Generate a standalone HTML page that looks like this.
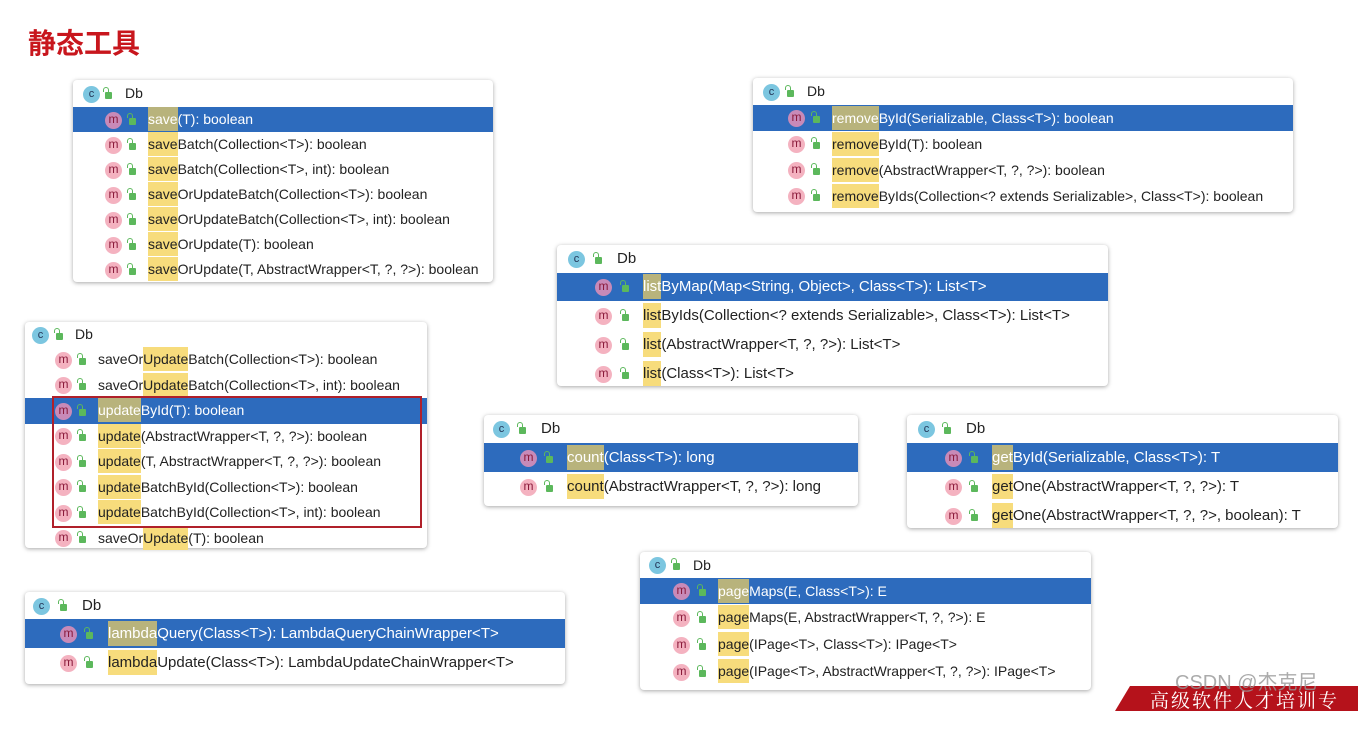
<!DOCTYPE html>
<html><head><meta charset="utf-8"><style>
body{margin:0;width:1358px;height:707px;background:#fff;position:relative;overflow:hidden;font-family:"Liberation Sans","Noto Sans CJK SC",sans-serif;color:#222}
.t{position:absolute;left:28px;top:22px;font-size:28px;font-weight:bold;color:#c8161d;font-family:"Liberation Sans","Noto Sans CJK SC",sans-serif}
.p{position:absolute;background:#fff;border-radius:4px;box-shadow:0 1px 4px rgba(0,0,0,.35)}
.r{position:relative;white-space:nowrap}
.s{background:#2d6bbd;color:#fff}
.h{background:#f7dc7c;padding:4px 0}
.s .h{background:#b8b37c;color:#fff}
.m{position:absolute;width:17px;height:17px;border-radius:50%;background:#f4b2c0;color:#8a1a3a;font-size:12px;line-height:15px;text-align:center;top:50%;margin-top:-8px}
.s .m{background:#c88ab8}
.c{position:absolute;width:17px;height:17px;border-radius:50%;background:#7cc6e0;color:#235;font-size:11px;line-height:16px;text-align:center;top:50%;margin-top:-8px}
.l{position:absolute;width:7px;height:7px;background:#5cb85c;border-radius:1px;top:50%;margin-top:-2px}
.l:before{content:"";position:absolute;left:-2px;top:-5px;width:4px;height:4px;border:1.5px solid #5cb85c;border-bottom:none;border-radius:3px 3px 0 0}
</style></head><body>
<div class="t">静态工具</div>

<!-- P1 -->
<div class="p" style="left:73px;top:80px;width:420px;height:202px;font-size:14px">
<div class="r" style="height:27px;line-height:27px;padding-left:52px"><span class="c" style="left:10px">c</span><span class="l" style="left:32px"></span>Db</div>
<div class="r s" style="height:25px;line-height:25px;padding-left:75px"><span class="m" style="left:32px">m</span><span class="l" style="left:56px"></span><span class="h">save</span>(T): boolean</div>
<div class="r" style="height:25px;line-height:25px;padding-left:75px"><span class="m" style="left:32px">m</span><span class="l" style="left:56px"></span><span class="h">save</span>Batch(Collection&lt;T&gt;): boolean</div>
<div class="r" style="height:25px;line-height:25px;padding-left:75px"><span class="m" style="left:32px">m</span><span class="l" style="left:56px"></span><span class="h">save</span>Batch(Collection&lt;T&gt;, int): boolean</div>
<div class="r" style="height:25px;line-height:25px;padding-left:75px"><span class="m" style="left:32px">m</span><span class="l" style="left:56px"></span><span class="h">save</span>OrUpdateBatch(Collection&lt;T&gt;): boolean</div>
<div class="r" style="height:25px;line-height:25px;padding-left:75px"><span class="m" style="left:32px">m</span><span class="l" style="left:56px"></span><span class="h">save</span>OrUpdateBatch(Collection&lt;T&gt;, int): boolean</div>
<div class="r" style="height:25px;line-height:25px;padding-left:75px"><span class="m" style="left:32px">m</span><span class="l" style="left:56px"></span><span class="h">save</span>OrUpdate(T): boolean</div>
<div class="r" style="height:25px;line-height:25px;padding-left:75px"><span class="m" style="left:32px">m</span><span class="l" style="left:56px"></span><span class="h">save</span>OrUpdate(T, AbstractWrapper&lt;T, ?, ?&gt;): boolean</div>
</div>

<!-- P2 -->
<div class="p" style="left:753px;top:78px;width:540px;height:134px;font-size:14px">
<div class="r" style="height:27px;line-height:27px;padding-left:54px"><span class="c" style="left:10px">c</span><span class="l" style="left:34px"></span>Db</div>
<div class="r s" style="height:26px;line-height:26px;padding-left:79px"><span class="m" style="left:35px">m</span><span class="l" style="left:60px"></span><span class="h">remove</span>ById(Serializable, Class&lt;T&gt;): boolean</div>
<div class="r" style="height:26px;line-height:26px;padding-left:79px"><span class="m" style="left:35px">m</span><span class="l" style="left:60px"></span><span class="h">remove</span>ById(T): boolean</div>
<div class="r" style="height:26px;line-height:26px;padding-left:79px"><span class="m" style="left:35px">m</span><span class="l" style="left:60px"></span><span class="h">remove</span>(AbstractWrapper&lt;T, ?, ?&gt;): boolean</div>
<div class="r" style="height:26px;line-height:26px;padding-left:79px"><span class="m" style="left:35px">m</span><span class="l" style="left:60px"></span><span class="h">remove</span>ByIds(Collection&lt;? extends Serializable&gt;, Class&lt;T&gt;): boolean</div>
</div>

<!-- P3 -->
<div class="p" style="left:557px;top:245px;width:551px;height:141px;font-size:15px">
<div class="r" style="height:28px;line-height:28px;padding-left:60px"><span class="c" style="left:11px">c</span><span class="l" style="left:38px"></span>Db</div>
<div class="r s" style="height:28px;line-height:28px;padding-left:86px"><span class="m" style="left:38px">m</span><span class="l" style="left:65px"></span><span class="h">list</span>ByMap(Map&lt;String, Object&gt;, Class&lt;T&gt;): List&lt;T&gt;</div>
<div class="r" style="height:29px;line-height:29px;padding-left:86px"><span class="m" style="left:38px">m</span><span class="l" style="left:65px"></span><span class="h">list</span>ByIds(Collection&lt;? extends Serializable&gt;, Class&lt;T&gt;): List&lt;T&gt;</div>
<div class="r" style="height:29px;line-height:29px;padding-left:86px"><span class="m" style="left:38px">m</span><span class="l" style="left:65px"></span><span class="h">list</span>(AbstractWrapper&lt;T, ?, ?&gt;): List&lt;T&gt;</div>
<div class="r" style="height:29px;line-height:29px;padding-left:86px"><span class="m" style="left:38px">m</span><span class="l" style="left:65px"></span><span class="h">list</span>(Class&lt;T&gt;): List&lt;T&gt;</div>
</div>

<!-- P4 -->
<div class="p" style="left:25px;top:322px;width:402px;height:226px;font-size:14px">
<div class="r" style="height:25px;line-height:25px;padding-left:50px"><span class="c" style="left:7px">c</span><span class="l" style="left:31px"></span>Db</div>
<div class="r" style="height:25.5px;line-height:25px;padding-left:73px"><span class="m" style="left:30px">m</span><span class="l" style="left:54px"></span>saveOr<span class="h">Update</span>Batch(Collection&lt;T&gt;): boolean</div>
<div class="r" style="height:25.5px;line-height:25px;padding-left:73px"><span class="m" style="left:30px">m</span><span class="l" style="left:54px"></span>saveOr<span class="h">Update</span>Batch(Collection&lt;T&gt;, int): boolean</div>
<div class="r s" style="height:25.5px;line-height:25px;padding-left:73px"><span class="m" style="left:30px">m</span><span class="l" style="left:54px"></span><span class="h">update</span>ById(T): boolean</div>
<div class="r" style="height:25.5px;line-height:25px;padding-left:73px"><span class="m" style="left:30px">m</span><span class="l" style="left:54px"></span><span class="h">update</span>(AbstractWrapper&lt;T, ?, ?&gt;): boolean</div>
<div class="r" style="height:25.5px;line-height:25px;padding-left:73px"><span class="m" style="left:30px">m</span><span class="l" style="left:54px"></span><span class="h">update</span>(T, AbstractWrapper&lt;T, ?, ?&gt;): boolean</div>
<div class="r" style="height:25.5px;line-height:25px;padding-left:73px"><span class="m" style="left:30px">m</span><span class="l" style="left:54px"></span><span class="h">update</span>BatchById(Collection&lt;T&gt;): boolean</div>
<div class="r" style="height:25.5px;line-height:25px;padding-left:73px"><span class="m" style="left:30px">m</span><span class="l" style="left:54px"></span><span class="h">update</span>BatchById(Collection&lt;T&gt;, int): boolean</div>
<div class="r" style="height:25.5px;line-height:25px;padding-left:73px"><span class="m" style="left:30px">m</span><span class="l" style="left:54px"></span>saveOr<span class="h">Update</span>(T): boolean</div>
<div style="position:absolute;left:27px;top:74px;width:366px;height:128px;border:2px solid #b0202a"></div>
</div>

<!-- P5 -->
<div class="p" style="left:484px;top:415px;width:374px;height:91px;font-size:15px">
<div class="r" style="height:28px;line-height:28px;padding-left:57px"><span class="c" style="left:9px">c</span><span class="l" style="left:35px"></span>Db</div>
<div class="r s" style="height:29px;line-height:29px;padding-left:83px"><span class="m" style="left:36px">m</span><span class="l" style="left:62px"></span><span class="h">count</span>(Class&lt;T&gt;): long</div>
<div class="r" style="height:29px;line-height:29px;padding-left:83px"><span class="m" style="left:36px">m</span><span class="l" style="left:62px"></span><span class="h">count</span>(AbstractWrapper&lt;T, ?, ?&gt;): long</div>
</div>

<!-- P6 -->
<div class="p" style="left:907px;top:415px;width:431px;height:113px;font-size:15px">
<div class="r" style="height:28px;line-height:28px;padding-left:59px"><span class="c" style="left:11px">c</span><span class="l" style="left:37px"></span>Db</div>
<div class="r s" style="height:29px;line-height:29px;padding-left:85px"><span class="m" style="left:38px">m</span><span class="l" style="left:64px"></span><span class="h">get</span>ById(Serializable, Class&lt;T&gt;): T</div>
<div class="r" style="height:29px;line-height:29px;padding-left:85px"><span class="m" style="left:38px">m</span><span class="l" style="left:64px"></span><span class="h">get</span>One(AbstractWrapper&lt;T, ?, ?&gt;): T</div>
<div class="r" style="height:29px;line-height:29px;padding-left:85px"><span class="m" style="left:38px">m</span><span class="l" style="left:64px"></span><span class="h">get</span>One(AbstractWrapper&lt;T, ?, ?&gt;, boolean): T</div>
</div>

<!-- P7 -->
<div class="p" style="left:25px;top:592px;width:540px;height:92px;font-size:15px">
<div class="r" style="height:27px;line-height:27px;padding-left:57px"><span class="c" style="left:8px">c</span><span class="l" style="left:35px"></span>Db</div>
<div class="r s" style="height:29px;line-height:29px;padding-left:83px"><span class="m" style="left:35px">m</span><span class="l" style="left:61px"></span><span class="h">lambda</span>Query(Class&lt;T&gt;): LambdaQueryChainWrapper&lt;T&gt;</div>
<div class="r" style="height:29px;line-height:29px;padding-left:83px"><span class="m" style="left:35px">m</span><span class="l" style="left:61px"></span><span class="h">lambda</span>Update(Class&lt;T&gt;): LambdaUpdateChainWrapper&lt;T&gt;</div>
</div>

<!-- P8 -->
<div class="p" style="left:640px;top:552px;width:451px;height:138px;font-size:14px">
<div class="r" style="height:26px;line-height:26px;padding-left:53px"><span class="c" style="left:9px">c</span><span class="l" style="left:33px"></span>Db</div>
<div class="r s" style="height:26px;line-height:26px;padding-left:78px"><span class="m" style="left:33px">m</span><span class="l" style="left:59px"></span><span class="h">page</span>Maps(E, Class&lt;T&gt;): E</div>
<div class="r" style="height:27px;line-height:27px;padding-left:78px"><span class="m" style="left:33px">m</span><span class="l" style="left:59px"></span><span class="h">page</span>Maps(E, AbstractWrapper&lt;T, ?, ?&gt;): E</div>
<div class="r" style="height:27px;line-height:27px;padding-left:78px"><span class="m" style="left:33px">m</span><span class="l" style="left:59px"></span><span class="h">page</span>(IPage&lt;T&gt;, Class&lt;T&gt;): IPage&lt;T&gt;</div>
<div class="r" style="height:27px;line-height:27px;padding-left:78px"><span class="m" style="left:33px">m</span><span class="l" style="left:59px"></span><span class="h">page</span>(IPage&lt;T&gt;, AbstractWrapper&lt;T, ?, ?&gt;): IPage&lt;T&gt;</div>
</div>

<div style="position:absolute;left:1115px;top:686px;width:260px;height:25px;background:#b5121b;clip-path:polygon(15px 0,100% 0,100% 100%,0 100%)"></div>
<div style="position:absolute;left:1150px;top:688px;color:#fff;font-size:19px;line-height:24px;letter-spacing:2px;font-family:'Noto Serif CJK SC',serif">高级软件人才培训专家</div>
<div style="position:absolute;left:1175px;top:671px;color:rgba(150,150,150,.8);font-size:20px;line-height:24px">CSDN @杰克尼</div>
</body></html>
